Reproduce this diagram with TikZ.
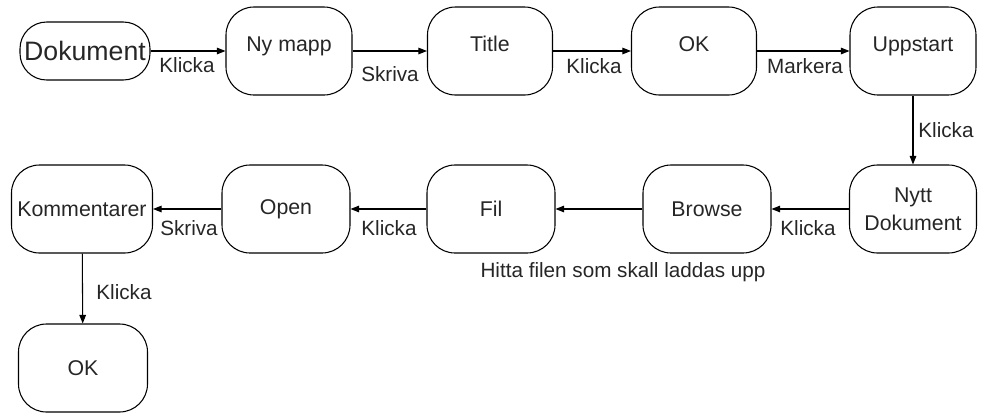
\documentclass[tikz,border=0pt]{standalone}
\usepackage{fontspec}
\setmainfont{Liberation Sans}
\usetikzlibrary{arrows.meta}
\begin{document}
\begin{tikzpicture}[x=0.75pt,y=-0.75pt,
  txt/.style={font=\fontsize{15.5}{18}\selectfont, text=black!85},
  state/.style={draw, line width=0.8pt, rounded corners=21pt,
    minimum width=#1*0.75pt, minimum height=66pt, inner sep=1pt,
    align=center, txt, font=\fontsize{16}{21}\selectfont},
  raised/.style={text height=11pt, text depth=10pt},
  flow/.style={draw, line width=0.8pt, -{Triangle[length=6.5pt,width=5pt]}},
  lbl/.style={txt, inner sep=1pt}
]
\useasboundingbox (0,0) rectangle (989,415);

% first row
\node[state=130, minimum height=43.5pt, rounded corners=20pt,
      font=\fontsize{20}{24}\selectfont] (dok) at (85,51) {Dokument};
\node[state=126, raised] (nymapp) at (289,51) {Ny mapp};
\node[state=125, raised] (title)  at (490,51) {Title};
\node[state=125, raised] (ok1)    at (694,51) {OK};
\node[state=126, raised] (upp)    at (913,51) {Uppstart};

% second row
\node[state=141] (komm)   at (82,209)  {Kommentarer};
\node[state=128] (open)   at (286,209) {Open};
\node[state=128] (fil)    at (491,209) {Fil};
\node[state=128] (browse) at (707,209) {Browse};
\node[state=127] (nytt)   at (913,209) {Nytt\\Dokument};

% last step
\node[state=129] (ok2) at (83,368) {OK};

% connectors
\draw[flow] (dok) -- (nymapp);
\draw[flow] (nymapp) -- (title);
\draw[flow] (title) -- (ok1);
\draw[flow] (ok1) -- (upp);
\draw[flow] (upp) -- (nytt);
\draw[flow] (nytt) -- (browse);
\draw[flow] (browse) -- (fil);
\draw[flow] (fil) -- (open);
\draw[flow] (open) -- (komm);
\draw[flow] (komm) -- (ok2);

% connector labels
\node[lbl] (l1) at (187,65)  {Klicka};
\node[lbl] (l2) at (390,74)  {Skriva};
\node[lbl] (l3) at (594,66)  {Klicka};
\node[lbl] (l4) at (805,66)  {Markera};
\node[lbl] (l5) at (946,130) {Klicka};
\node[lbl] (l6) at (808,228) {Klicka};
\node[lbl] (l7) at (389,228) {Klicka};
\node[lbl] (l8) at (189,228) {Skriva};
\node[lbl] (l9) at (124,292) {Klicka};
\node[lbl] (hint) at (623,272) {Hitta filen som skall laddas upp};
\end{tikzpicture}
\end{document}
